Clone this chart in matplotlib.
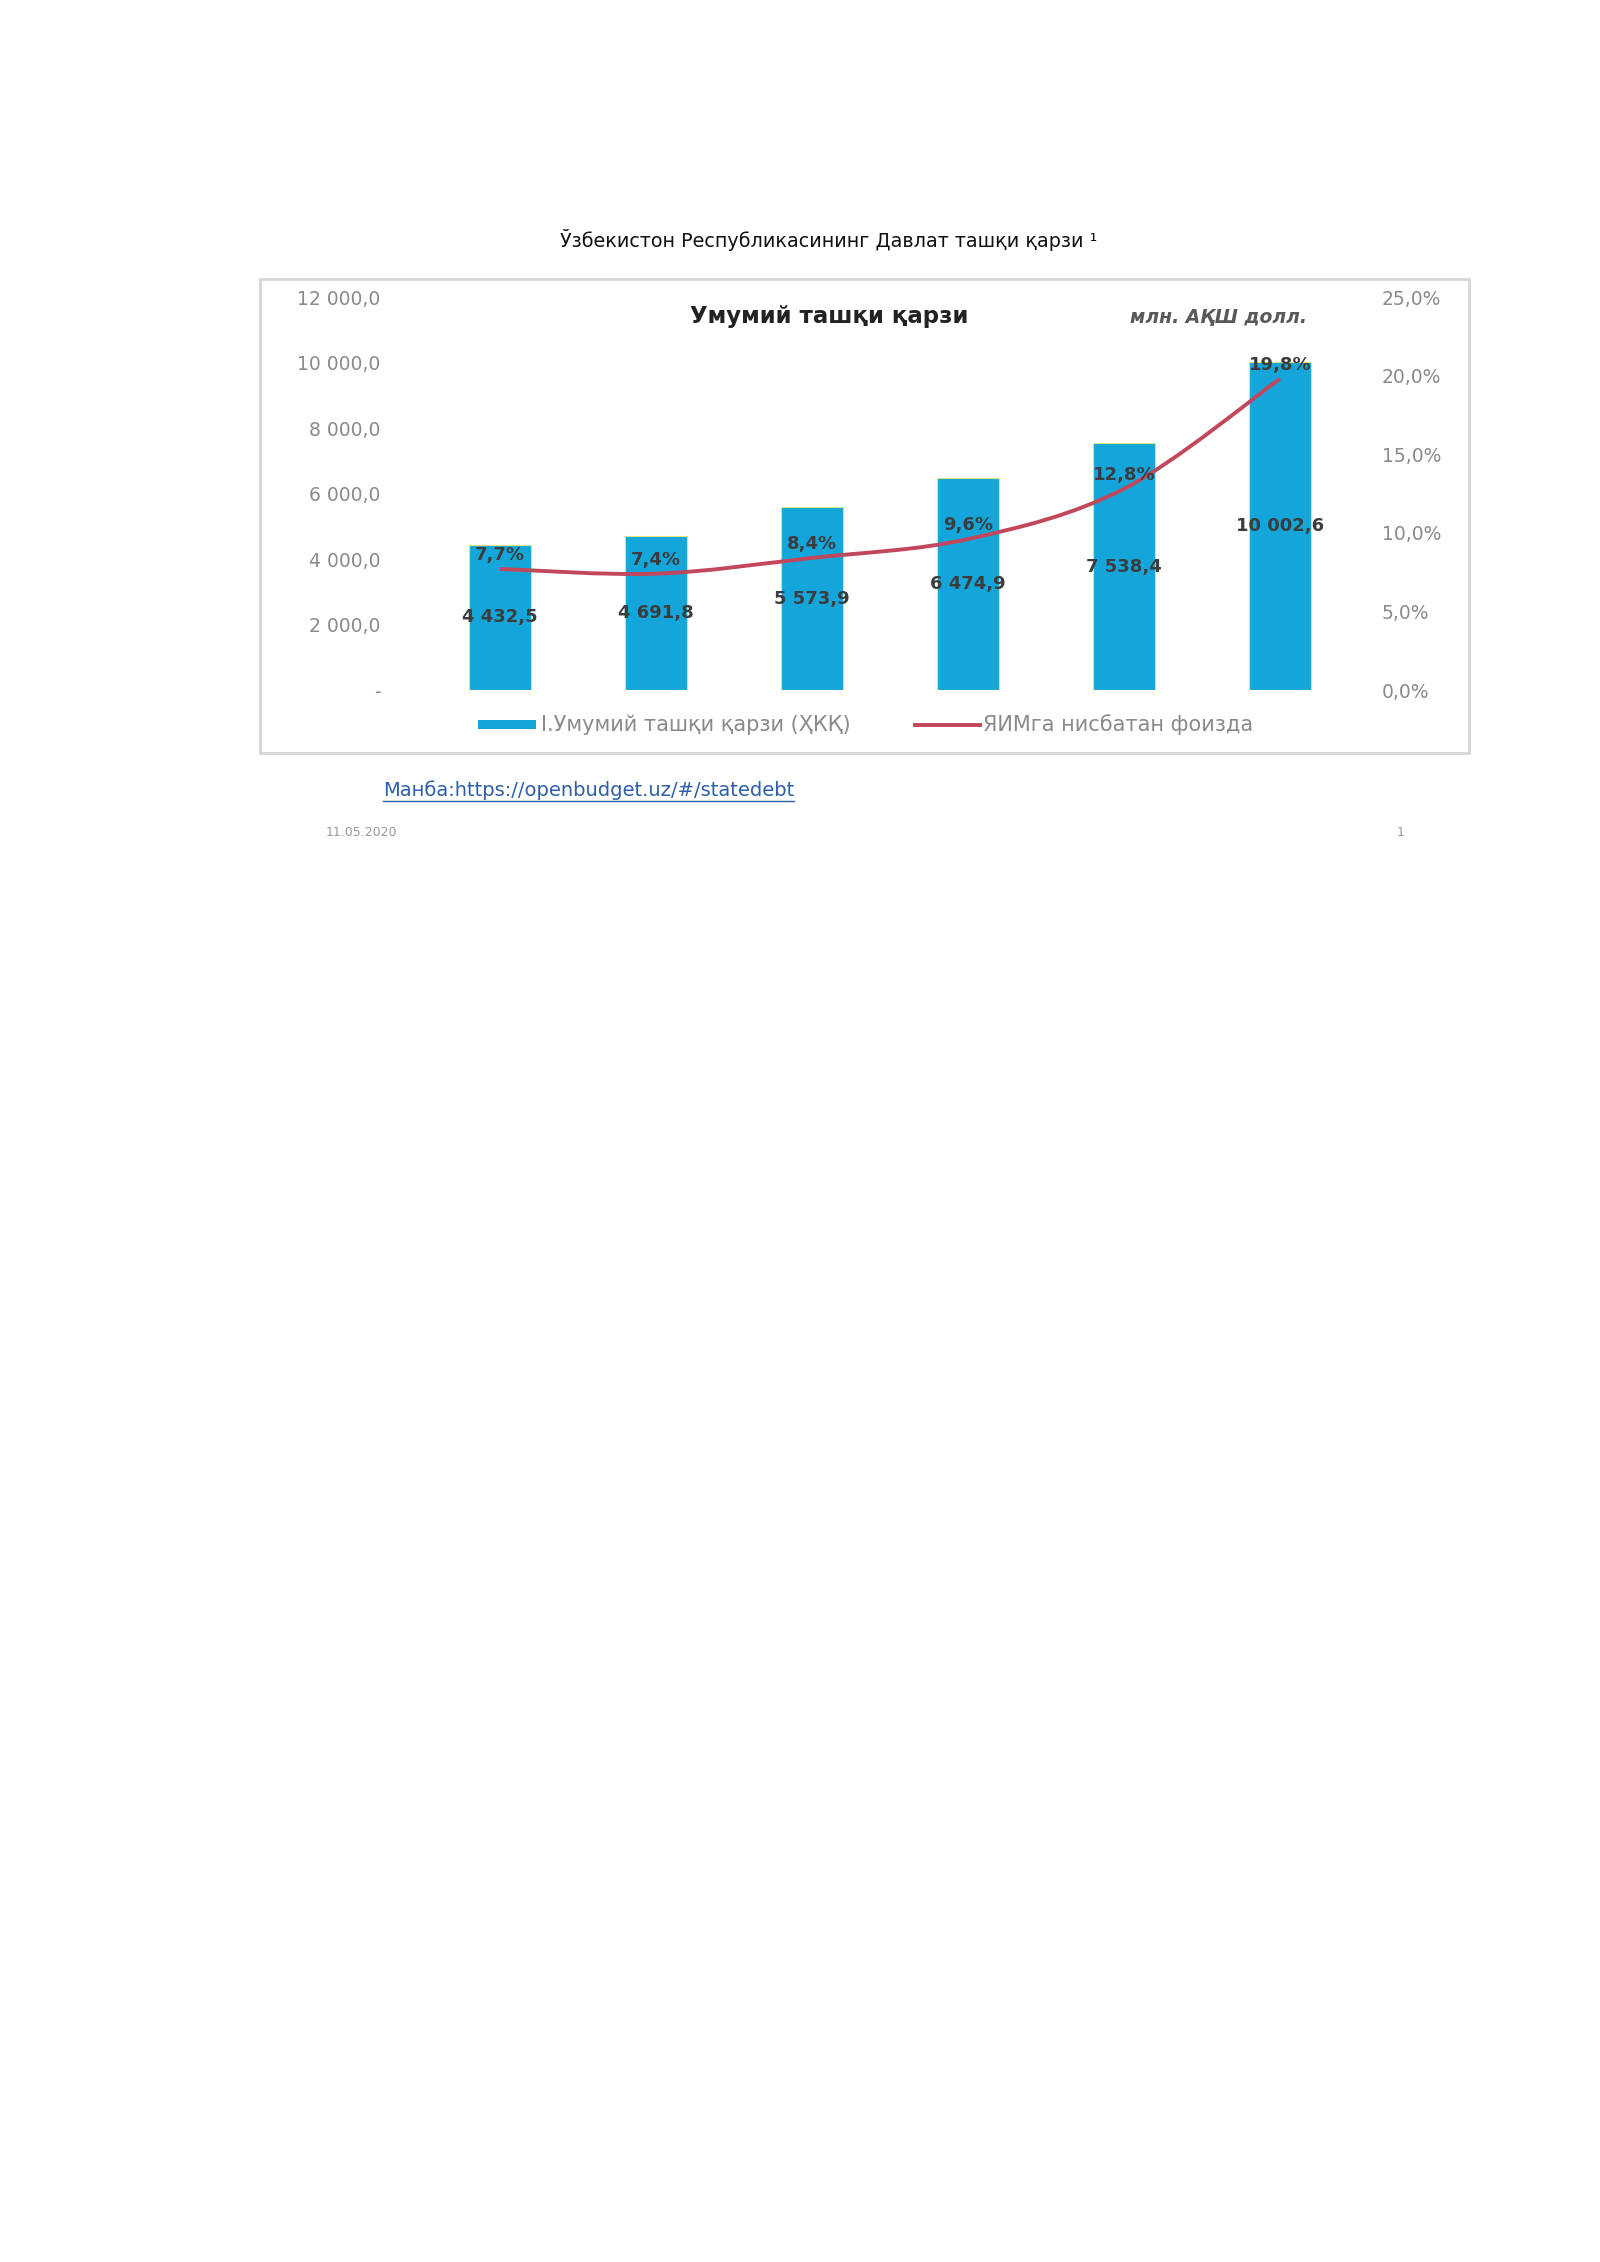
import numpy as np
import matplotlib.pyplot as plt
from matplotlib.path import Path
from matplotlib.patches import PathPatch, Rectangle
from matplotlib.lines import Line2D

plt.rcParams['font.family'] = ['DejaVu Sans']

# --- data ---
debt_values = [4432.5, 4691.8, 5573.9, 6474.9, 7538.4, 10002.6]
debt_labels = ["4 432,5", "4 691,8", "5 573,9", "6 474,9", "7 538,4", "10 002,6"]
gdp_share = [7.7, 7.4, 8.4, 9.6, 12.8, 19.8]
gdp_labels = ["7,7%", "7,4%", "8,4%", "9,6%", "12,8%", "19,8%"]
left_ticks = [0, 2000, 4000, 6000, 8000, 10000, 12000]
left_ticklabels = ["-", "2 000,0", "4 000,0", "6 000,0", "8 000,0", "10 000,0", "12 000,0"]
right_ticks = [0, 5, 10, 15, 20, 25]
right_ticklabels = ["0,0%", "5,0%", "10,0%", "15,0%", "20,0%", "25,0%"]

bar_color = "#14a6db"
line_color = "#c2475a"
grey = "#8a8a8a"

W, H = 1600, 2262
fig = plt.figure(figsize=(16, 22.62), dpi=100)

# page title
fig.text(829 / W, 1 - 240 / H, "Ўзбекистон Республикасининг Давлат ташқи қарзи ¹",
         ha="center", va="center", fontsize=13.8, color="#111111")

# chart frame
fig.patches.append(Rectangle((260 / W, 1 - 753 / H), (1469 - 260) / W, (753 - 279) / H,
                             transform=fig.transFigure, facecolor="none",
                             edgecolor="#d6d6d6", linewidth=2.0, zorder=-1))

ax = fig.add_axes([422 / W, 1 - 690 / H, (1358 - 422) / W, (690 - 297) / H])
ax2 = ax.twinx()

x = np.arange(len(debt_values))
bars = ax.bar(x, debt_values, width=0.4, color=bar_color, edgecolor="#dfe27a",
              linewidth=0.8, zorder=2)
ax.set_xlim(-0.5, len(x) - 0.5)
ax.set_ylim(0, 12000)
ax.set_yticks(left_ticks)
ax.set_yticklabels(left_ticklabels)
ax.set_xticks([])
ax.tick_params(axis="y", length=0, pad=30, labelsize=13.5, labelcolor=grey)

for b, lab in zip(bars, debt_labels):
    ax.text(b.get_x() + b.get_width() / 2, b.get_height() / 2, lab,
            ha="center", va="center", fontsize=13, fontweight="bold",
            color="#3c3c3c", zorder=5)

# smoothed line (Excel-style bezier through the points)
pts = np.column_stack([x, gdp_share]).astype(float)
verts = [tuple(pts[0])]
codes = [Path.MOVETO]
n = len(pts)
for i in range(n - 1):
    p0 = pts[max(i - 1, 0)]
    p1 = pts[i]
    p2 = pts[i + 1]
    p3 = pts[min(i + 2, n - 1)]
    c1 = p1 + (p2 - p0) / 6.0
    c2 = p2 - (p3 - p1) / 6.0
    verts += [tuple(c1), tuple(c2), tuple(p2)]
    codes += [Path.CURVE4] * 3
ax2.add_patch(PathPatch(Path(verts, codes), facecolor="none", edgecolor=line_color,
                        linewidth=2.8, zorder=3))
ax2.set_ylim(0, 25)
ax2.set_yticks(right_ticks)
ax2.set_yticklabels(right_ticklabels)
ax2.tick_params(axis="y", length=0, pad=17, labelsize=13.5, labelcolor=grey)

for xi, v, lab in zip(x, gdp_share, gdp_labels):
    ax2.annotate(lab, (xi, v), xytext=(0, 10), textcoords="offset points",
                 ha="center", va="center", fontsize=13, fontweight="bold",
                 color="#3c3c3c", zorder=6)

for a in (ax, ax2):
    for s in a.spines.values():
        s.set_visible(False)
    a.patch.set_visible(False)

# chart titles
fig.text(829 / W, 1 - 317 / H, "Умумий ташқи қарзи", ha="center", va="center",
         fontsize=16.5, fontweight="bold", color="#222222")
fig.text(1219 / W, 1 - 317 / H, "млн. АҚШ долл.", ha="center", va="center",
         fontsize=13.5, fontweight="bold", style="italic", color="#595959")

# legend
ly = 1 - 725 / H
fig.patches.append(Rectangle((478 / W, ly - 4 / H), 58 / W, 9 / H,
                             transform=fig.transFigure, facecolor=bar_color,
                             edgecolor="none"))
fig.text(541 / W, ly, "I.Умумий ташқи қарзи (ҲКҚ)", ha="left", va="center",
         fontsize=15, color=grey)
fig.lines.append(Line2D([915 / W, 980 / W], [ly, ly], transform=fig.transFigure,
                        color=line_color, linewidth=2.8))
fig.text(983 / W, ly, "ЯИМга нисбатан фоизда", ha="left", va="center",
         fontsize=15, color=grey)

# source link
src = fig.text(383 / W, 1 - 790 / H, "Манба:https://openbudget.uz/#/statedebt",
               ha="left", va="center", fontsize=14, color="#2f5fa8")
fig.canvas.draw()
bb = src.get_window_extent().transformed(fig.transFigure.inverted())
fig.lines.append(Line2D([bb.x0, bb.x1], [bb.y0 - 1 / H, bb.y0 - 1 / H],
                        transform=fig.transFigure, color="#2f5fa8", linewidth=1.0))

# footer
fig.text(326 / W, 1 - 833 / H, "11.05.2020", ha="left", va="center",
         fontsize=9, color="#9a9a9a")
fig.text(1401 / W, 1 - 833 / H, "1", ha="center", va="center",
         fontsize=9, color="#9a9a9a")

fig.savefig("out.png", dpi=100, facecolor="white")
